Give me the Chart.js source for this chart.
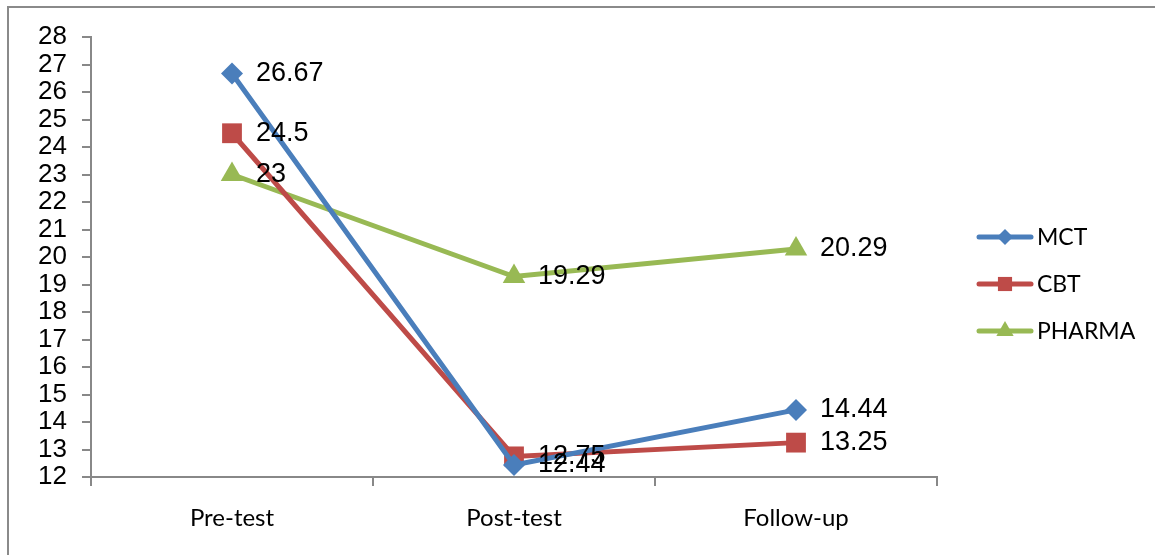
<!DOCTYPE html>
<html>
<head>
<meta charset="utf-8">
<script src="https://cdn.jsdelivr.net/npm/chart.js@4/dist/chart.umd.min.js"></script>
<style>
  html, body { margin: 0; padding: 0; background: #fff; }
  #wrap { position: relative; width: 1155px; height: 555px; overflow: hidden; }
  #frame { position: absolute; left: 7px; top: 6px; width: 1200px; height: 600px;
           border-left: 2px solid #8a8a8a; border-top: 2px solid #8a8a8a; pointer-events: none; }
  canvas { position: absolute; left: 0; top: 0; }
</style>
</head>
<body>
<div id="wrap">
  <canvas id="lineChart" width="1155" height="555"></canvas>
  <div id="frame"></div>
</div>
<script>
const categories = ['Pre-test', 'Post-test', 'Follow-up'];
const mctValues = [26.67, 12.44, 14.44];
const cbtValues = [24.5, 12.75, 13.25];
const pharmaValues = [23, 19.29, 20.29];

const seriesNames = ['MCT', 'CBT', 'PHARMA'];
const seriesColors = ['#4a7ebb', '#be4b48', '#98b954'];
const seriesMarkers = ['rectRot', 'rect', 'triangle'];
const markerSizes = [11, 14, 13];
const legendMarkerSizes = [8, 10, 10];

// value labels drawn right of each point, like Excel
const valueLabels = {
    id: 'valueLabels',
    afterDatasetsDraw(chart) {
        const c = chart.ctx;
        c.save();
        c.font = '27px "Liberation Sans", Arial, sans-serif';
        c.fillStyle = '#000';
        c.textBaseline = 'middle';
        chart.data.datasets.forEach((ds, i) => {
            chart.getDatasetMeta(i).data.forEach((pt, j) => {
                c.fillText(String(ds.data[j]), pt.x + 24, pt.y);
            });
        });
        c.restore();
    }
};

// legend on the right: short line with the marker on it
const sideLegend = {
    id: 'sideLegend',
    afterDraw(chart) {
        const c = chart.ctx;
        chart.data.datasets.forEach((ds, i) => {
            const y = 237 + i * 47;
            c.save();
            c.strokeStyle = ds.borderColor;
            c.lineWidth = 5;
            c.lineCap = 'round';
            c.beginPath();
            c.moveTo(979, y);
            c.lineTo(1031, y);
            c.stroke();
            c.fillStyle = ds.borderColor;
            c.lineWidth = 0.01;
            Chart.helpers.drawPoint(c, { pointStyle: ds.pointStyle, radius: legendMarkerSizes[i], rotation: 0, borderWidth: 0 }, 1005, y);
            c.fillStyle = '#000';
            c.font = '23px Lato, "Open Sans", sans-serif';
            c.textBaseline = 'middle';
            c.fillText(ds.label, 1037, y + 1);
            c.restore();
        });
    }
};

const ctx = document.getElementById('lineChart').getContext('2d');
const allValues = [mctValues, cbtValues, pharmaValues];

new Chart(ctx, {
    type: 'line',
    data: {
        labels: categories,
        datasets: allValues.map((vals, i) => ({
            label: seriesNames[i],
            data: vals,
            borderColor: seriesColors[i],
            backgroundColor: seriesColors[i],
            borderWidth: 5,
            pointStyle: seriesMarkers[i],
            pointRadius: markerSizes[i],
            pointBorderWidth: 0,
            tension: 0
        }))
    },
    options: {
        responsive: false,
        animation: false,
        layout: { padding: { left: 0, right: 218, top: 37, bottom: 0 } },
        plugins: {
            legend: { display: false },
            tooltip: { enabled: false }
        },
        scales: {
            x: {
                offset: true,
                grid: { offset: true, drawOnChartArea: false, color: '#888', tickLength: 9, lineWidth: 2 },
                border: { color: '#888', width: 2 },
                ticks: {
                    color: '#000',
                    font: { family: 'Lato, "Open Sans", sans-serif', size: 24 },
                    padding: 18
                },
                afterFit(scale) { scale.height = 78; }
            },
            y: {
                min: 12,
                max: 28,
                ticks: {
                    stepSize: 1,
                    autoSkip: false,
                    color: '#000',
                    font: { family: '"Liberation Sans", Arial, sans-serif', size: 26 },
                    padding: 15
                },
                grid: { drawOnChartArea: false, color: '#888', tickLength: 9, lineWidth: 2 },
                border: { color: '#888', width: 2 },
                afterFit(scale) { scale.width = 91; }
            }
        }
    },
    plugins: [valueLabels, sideLegend]
});
</script>
</body>
</html>
